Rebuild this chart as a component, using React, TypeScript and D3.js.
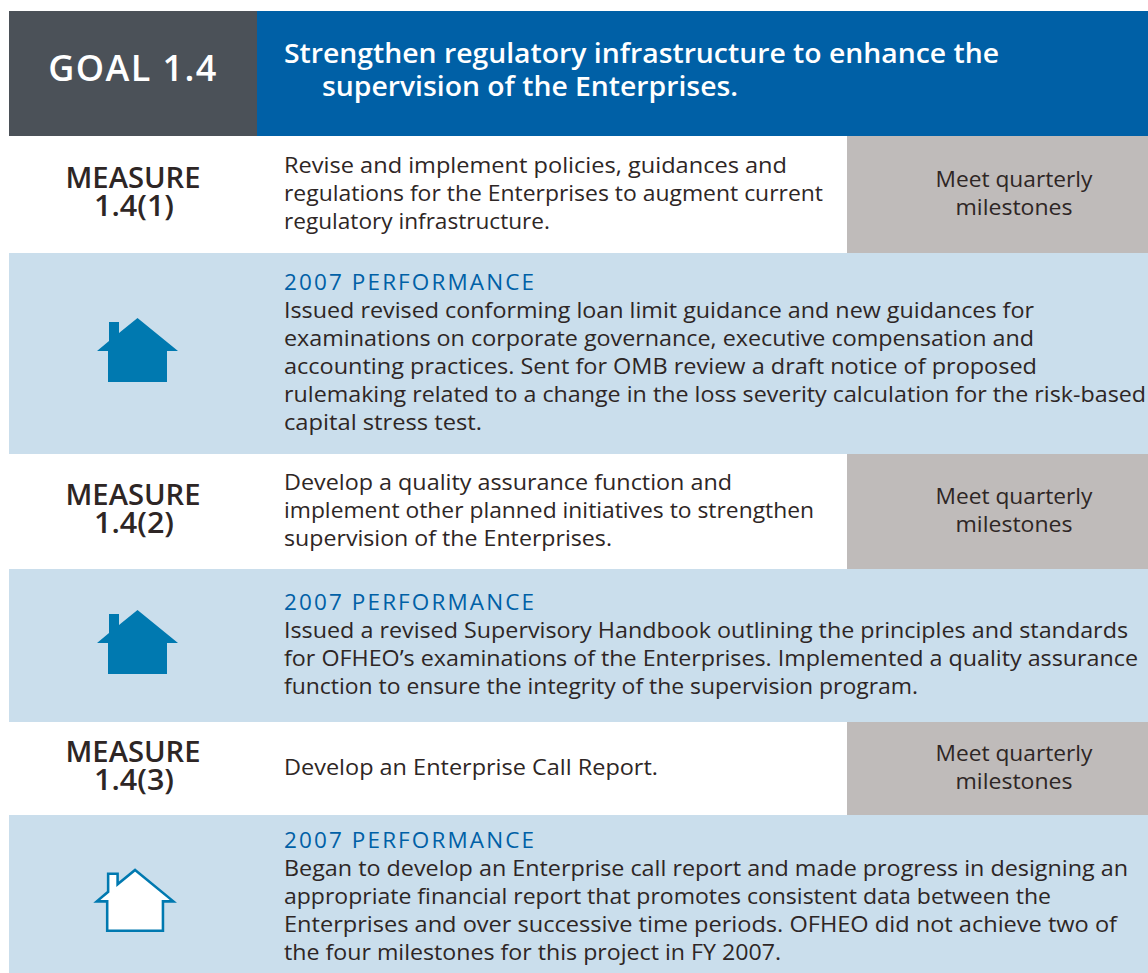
import React from 'react';
import * as d3 from 'd3';

const goalLabel = 'GOAL 1.4';
const goalTitle = ['Strengthen regulatory infrastructure to enhance the', 'supervision of the Enterprises.'];
const measureIds = ['1.4(1)', '1.4(2)', '1.4(3)'];
const measureTexts = [
  ['Revise and implement policies, guidances and', 'regulations for the Enterprises to augment current', 'regulatory infrastructure.'],
  ['Develop a quality assurance function and', 'implement other planned initiatives to strengthen', 'supervision of the Enterprises.'],
  ['Develop an Enterprise Call Report.'],
];
const targetLines = ['Meet quarterly', 'milestones'];
const performanceTitle = '2007 PERFORMANCE';
const performanceTexts = [
  [
    'Issued revised conforming loan limit guidance and new guidances for',
    'examinations on corporate governance, executive compensation and',
    'accounting practices. Sent for OMB review a draft notice of proposed',
    'rulemaking related to a change in the loss severity calculation for the risk-based',
    'capital stress test.',
  ],
  [
    'Issued a revised Supervisory Handbook outlining the principles and standards',
    'for OFHEO\u2019s examinations of the Enterprises. Implemented a quality assurance',
    'function to ensure the integrity of the supervision program.',
  ],
  [
    'Began to develop an Enterprise call report and made progress in designing an',
    'appropriate financial report that promotes consistent data between the',
    'Enterprises and over successive time periods. OFHEO did not achieve two of',
    'the four milestones for this project in FY 2007.',
  ],
];
const achieved = [true, true, false];

const W = 1148;
const H = 973;
const FONT = '"Open Sans", "Noto Sans", sans-serif';
const INK = '#2e2625';
const BLUE = '#0060a6';
const HOUSE = '#0079b0';

const measureTops = [136, 454, 722];
const measureBottoms = [253, 569, 815];
const perfBottoms = [454, 722, 973];
const measureBase = [187, 504, 761];
const textBase = [173, 490, 775];
const perfBase = [290, 610, 848];
const houseTops = [318, 610, 870];

// widths of the set lines, the original type is narrower than Open Sans
const measureWidths = [[503, 539, 266], [448, 530, 328], [374]];
const perfWidths = [[750, 750, 753, 862, 198], [844, 854, 634], [844, 767, 833, 497]];
const targetWidths = [157, 117];

const bodySize = 22.5;
const lineH = 28;
const x = d3.scaleLinear().domain([0, 1]).range([9, W]);

// house outline, unit box is 81 wide and 64 tall
const houseShape: [number, number][] = [
  [40.5, 0], [81, 33], [70, 33], [70, 64], [11, 64], [11, 33], [0, 33],
  [12, 23], [12, 4], [22, 4], [22, 15],
];
const houseLine = d3.line().curve(d3.curveLinearClosed);

const App = () => {
  return (
    <svg width={W} height={H} style={{ position: 'absolute', left: 0, top: 0 }} fontFamily={FONT}>
      <rect x={x(0)} y={11} width={248} height={125} fill="#4b5158" />
      <rect x={257} y={11} width={W - 257} height={125} fill={BLUE} />
      <text x={133} y={81} textAnchor="middle" fontSize={36} fontWeight={600} letterSpacing={1.4} fill="#fff">{goalLabel}</text>
      <text x={284} y={63} fontSize={27} fontWeight={600} textLength={715} lengthAdjust="spacingAndGlyphs" fill="#fff">{goalTitle[0]}</text>
      <text x={322} y={96} fontSize={27} fontWeight={600} textLength={416} lengthAdjust="spacingAndGlyphs" fill="#fff">{goalTitle[1]}</text>

      {measureIds.map((id, i) => (
        <g key={id}>
          <rect x={847} y={measureTops[i]} width={W - 847} height={measureBottoms[i] - measureTops[i]} fill="#bfbbba" />
          <rect x={x(0)} y={measureBottoms[i]} width={W - 9} height={perfBottoms[i] - measureBottoms[i]} fill="#cadeec" />
          <text textAnchor="middle" fontSize={28} fontWeight={600} fill={INK}>
            <tspan x={133} y={measureBase[i] + 0.5} textLength={135} lengthAdjust="spacingAndGlyphs">MEASURE</tspan>
            <tspan x={134} y={measureBase[i] + lineH + 0.5} textLength={80} lengthAdjust="spacingAndGlyphs">{id}</tspan>
          </text>
          {measureTexts[i].map((t, j) => (
            <text key={j} x={284} y={textBase[i] + j * lineH} fontSize={bodySize} textLength={measureWidths[i][j]} lengthAdjust="spacingAndGlyphs" fill={INK}>{t}</text>
          ))}
          {targetLines.map((t, j) => (
            <text key={j} x={1014} y={measureBase[i] + j * lineH} textAnchor="middle" fontSize={bodySize} textLength={targetWidths[j]} lengthAdjust="spacingAndGlyphs" fill={INK}>{t}</text>
          ))}
          <text x={284} y={perfBase[i]} fontSize={bodySize} letterSpacing={2} textLength={252} fill={BLUE}>{performanceTitle}</text>
          {performanceTexts[i].map((t, j) => (
            <text key={j} x={284} y={perfBase[i] + (j + 1) * lineH} fontSize={bodySize} textLength={perfWidths[i][j]} lengthAdjust="spacingAndGlyphs" fill={INK}>{t}</text>
          ))}
          <path
            transform={achieved[i]
              ? `translate(97,${houseTops[i]})`
              : `translate(96.8,${houseTops[i]}) scale(0.945,0.95)`}
            d={houseLine(houseShape) as string}
            fill={achieved[i] ? HOUSE : '#fff'}
            stroke={achieved[i] ? 'none' : HOUSE}
            strokeWidth={2.7}
          />
        </g>
      ))}
    </svg>
  );
};

export default App;
